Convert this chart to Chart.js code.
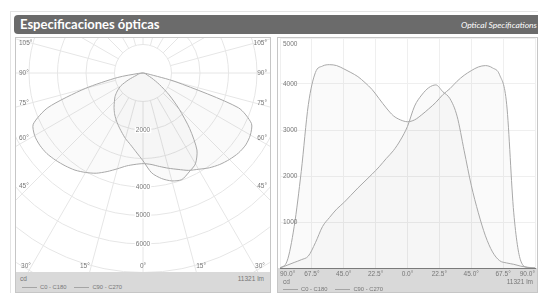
<!DOCTYPE html>
<html>
<head>
<meta charset="utf-8">
<script src="https://cdn.jsdelivr.net/npm/chart.js@4.4.1/dist/chart.umd.min.js"></script>
<style>
body{margin:0;width:538px;height:293px;overflow:hidden;position:relative;background:#fff;font-family:"Liberation Sans",Arial,sans-serif}
#frame{position:absolute;left:10px;top:11px;width:540px;height:300px;border:1px solid #e4e4e4}
#bar{position:absolute;left:14px;top:15px;width:524px;height:19px;background:#6b6b6b;border-radius:4px 0 0 4px}
#bar h1{margin:0;position:absolute;left:6px;top:1px;font:bold 13px Lato,sans-serif;color:#fff;white-space:nowrap}
#bar span{position:absolute;right:1px;top:5px;font:italic 8.5px Lato,sans-serif;color:#fff;white-space:nowrap}
.panel{position:absolute;top:37px;height:254px;border:1px solid #c6c6c6;background:#fff;overflow:hidden}
#pl{left:15px;width:254px}
#pr{left:277px;width:259px}
canvas{position:absolute;left:0;top:0}
.foot{position:absolute;left:0;width:100%;background:#d9d9d9}
.t{position:absolute;white-space:nowrap;color:#777;font-size:6.5px;line-height:8px}
.key{position:absolute;white-space:nowrap;color:#777;font-size:5.8px;line-height:8px}
.key i{display:inline-block;width:15px;border-top:1px solid #a5a5a5;vertical-align:middle;margin:0 3px 0 0}
.key b{font-weight:normal;margin-right:8px}
</style>
</head>
<body>
<div id="frame"></div>
<div id="bar"><h1>Especificaciones ópticas</h1><span>Optical Specifications</span></div>

<div class="panel" id="pl">
  <canvas id="polar" width="254" height="234"></canvas>
  <div class="foot" style="top:234px;height:20px"></div>
  <div class="t" style="left:4px;top:237px">cd</div>
  <div class="t" style="right:6px;top:237px">11321 lm</div>
  <div class="key" style="left:6px;top:245px"><i></i><b>C0 - C180</b><i></i><b>C90 - C270</b></div>
</div>

<div class="panel" id="pr">
  <canvas id="cart" width="259" height="254"></canvas>
  <div class="t" style="left:5px;top:240px">cd</div>
  <div class="t" style="right:4px;top:240px">11321 lm</div>
  <div class="key" style="left:5px;top:247px"><i></i><b>C0 - C180</b><i></i><b>C90 - C270</b></div>
</div>

<script>
// gamma angles, degrees (negative = C180 / C270 side)
var angles = [-90,-85,-80,-75,-70,-65,-60,-55,-50,-45,-40,-35,-30,-25,-20,-15,-10,-5,0,
              5,10,15,20,25,30,35,40,45,50,55,60,65,70,75,80,85,90];
// intensities, cd
var c0c180 = [0,60,120,180,260,550,900,1100,1280,1420,1580,1740,1890,2040,2200,2380,2550,2780,3080,
              3520,3760,3920,3980,3830,3680,3300,2550,1800,1200,700,350,160,110,80,40,15,0];
var c90c270 = [0,150,900,2100,3550,4250,4390,4420,4400,4330,4250,4160,4030,3880,3680,3480,3310,3220,3180,
               3220,3330,3460,3600,3770,3900,4060,4190,4290,4370,4400,4350,4200,3560,1200,150,10,0];
var seriesNames = ['C0 - C180', 'C90 - C270'];

var polarCircles = [1000,2000,3000,4000,5000,6000,7000,8000,9000,10000];
var polarRadiusLabels = [2000,4000,5000,6000];
var polarAngleLabels = [0,15,30,45,60,75,90,105];
var cartXTicks = [-90,-67.5,-45,-22.5,0,22.5,45,67.5,90];
var cartYTicks = [1000,2000,3000,4000,5000];

var lineCol = '#a8a8a8';
var fillCol = 'rgba(0,0,0,0.02)';
var polarGridCol = '#e6e6e6';
var cartGridCol = '#efefef';
var txtCol = '#777';
var small = '6.5px "Liberation Sans", Arial, sans-serif';

function toPolar(vals) {
  return angles.map(function(a, i) {
    var r = a * Math.PI / 180;
    return {x: vals[i] * Math.sin(r), y: -vals[i] * Math.cos(r)};
  });
}

var polarGrid = {
  id: 'polarGrid',
  beforeDatasetsDraw: function(chart) {
    var ctx = chart.ctx, a = chart.chartArea, x = chart.scales.x, y = chart.scales.y;
    var cx = x.getPixelForValue(0), cy = y.getPixelForValue(0);
    ctx.save();
    ctx.beginPath(); ctx.rect(a.left, a.top, a.width, a.height); ctx.clip();
    ctx.strokeStyle = polarGridCol; ctx.lineWidth = 1;
    polarCircles.forEach(function(v) {
      ctx.beginPath();
      ctx.arc(cx, cy, x.getPixelForValue(v) - cx, 0, Math.PI * 2);
      ctx.stroke();
    });
    var r0 = x.getPixelForValue(polarCircles[0]) - cx;
    var r1 = x.getPixelForValue(polarCircles[polarCircles.length - 1]) - cx;
    for (var d = 0; d < 360; d += 15) {
      var t = d * Math.PI / 180;
      ctx.beginPath();
      ctx.moveTo(cx + r0 * Math.sin(t), cy + r0 * Math.cos(t));
      ctx.lineTo(cx + r1 * Math.sin(t), cy + r1 * Math.cos(t));
      ctx.stroke();
    }
    ctx.restore();
  },
  afterDraw: function(chart) {
    var ctx = chart.ctx, a = chart.chartArea, x = chart.scales.x, y = chart.scales.y;
    var cx = x.getPixelForValue(0), cy = y.getPixelForValue(0);
    ctx.save();
    ctx.font = small; ctx.fillStyle = txtCol; ctx.textBaseline = 'middle';
    polarRadiusLabels.forEach(function(v) {
      var py = y.getPixelForValue(-v);
      var w = ctx.measureText(String(v)).width;
      ctx.fillStyle = '#fff';
      ctx.fillRect(cx - w / 2 - 1, py - 3, w + 2, 6);
      ctx.fillStyle = txtCol; ctx.textAlign = 'center';
      ctx.fillText(String(v), cx, py);
    });
    polarAngleLabels.forEach(function(d) {
      var t = d * Math.PI / 180;
      [-1, 1].forEach(function(side) {
        if (d === 0 && side < 0) return;
        var s = Math.sin(t), c = Math.cos(t);
        var dx = side < 0 ? cx - (a.left + 14) : (a.right - 14) - cx;
        var hy = s > 0.001 ? cy + dx * c / s : Infinity;
        var txt = d + '\u00b0';
        if (hy < a.bottom - 10) {
          ctx.textAlign = side < 0 ? 'left' : 'right';
          ctx.fillText(txt, side < 0 ? a.left + 3 : a.right - 3, hy);
        } else {
          var hx = cx + side * (a.bottom + 18 - cy) * s / c;
          hx = Math.max(a.left + 10, Math.min(a.right - 10, hx));
          ctx.textAlign = 'center';
          ctx.fillText(txt, hx, a.bottom - 6);
        }
      });
    });
    ctx.restore();
  }
};

var cartExtras = {
  id: 'cartExtras',
  beforeDraw: function(chart) {
    var ctx = chart.ctx, a = chart.chartArea;
    ctx.save();
    ctx.fillStyle = '#d9d9d9';
    ctx.fillRect(0, a.bottom, chart.width, chart.height - a.bottom);
    ctx.restore();
  },
  afterDraw: function(chart) {
    var ctx = chart.ctx, a = chart.chartArea, y = chart.scales.y;
    ctx.save();
    ctx.font = small; ctx.fillStyle = txtCol; ctx.textAlign = 'left'; ctx.textBaseline = 'middle';
    cartYTicks.forEach(function(v) {
      ctx.fillText(String(v), a.left + 3, Math.max(y.getPixelForValue(v), a.top + 6));
    });
    ctx.restore();
  }
};

function lineSet(label, data) {
  return {
    label: label, data: data, showLine: true, borderColor: lineCol, borderWidth: 1,
    backgroundColor: fillCol, pointRadius: 0
  };
}

window.onload = function() {
  var polarSets = [lineSet(seriesNames[0], toPolar(c0c180)), lineSet(seriesNames[1], toPolar(c90c270))];
  polarSets.forEach(function(s) { s.fill = 'shape'; s.tension = 0.25; });

  new Chart(document.getElementById('polar').getContext('2d'), {
    type: 'scatter',
    data: {datasets: polarSets},
    options: {
      responsive: false, animation: false, devicePixelRatio: 1,
      layout: {padding: 0},
      plugins: {legend: {display: false}, tooltip: {enabled: false}},
      scales: {
        x: {display: false, min: -4456, max: 4456},
        y: {display: false, min: -6982, max: 1228}
      }
    },
    plugins: [polarGrid]
  });

  var cartSets = [
    lineSet(seriesNames[0], angles.map(function(a, i) { return {x: a, y: c0c180[i]}; })),
    lineSet(seriesNames[1], angles.map(function(a, i) { return {x: a, y: c90c270[i]}; }))
  ];
  cartSets.forEach(function(s) { s.fill = 'origin'; s.cubicInterpolationMode = 'monotone'; });

  new Chart(document.getElementById('cart').getContext('2d'), {
    type: 'scatter',
    data: {datasets: cartSets},
    options: {
      responsive: false, animation: false, devicePixelRatio: 1,
      layout: {padding: 0},
      plugins: {legend: {display: false}, tooltip: {enabled: false}},
      scales: {
        x: {
          type: 'linear', min: cartXTicks[0], max: cartXTicks[cartXTicks.length - 1],
          afterBuildTicks: function(s) { s.ticks = cartXTicks.map(function(v) { return {value: v}; }); },
          ticks: {
            align: 'inner', maxRotation: 0, autoSkip: false, padding: 2, color: txtCol,
            font: {size: 6.5, family: '"Liberation Sans", Arial, sans-serif'},
            callback: function(v) { return Math.abs(v).toFixed(1) + '\u00b0'; }
          },
          grid: {color: cartGridCol, drawTicks: false},
          border: {color: '#7a7a7a'},
          afterFit: function(s) { s.height = 24; }
        },
        y: {
          min: 0, max: 5000,
          afterBuildTicks: function(s) { s.ticks = [0].concat(cartYTicks).map(function(v) { return {value: v}; }); },
          ticks: {display: false},
          grid: {color: cartGridCol, drawTicks: false},
          border: {display: false},
          afterFit: function(s) { s.width = 0; }
        }
      }
    },
    plugins: [cartExtras]
  });
};
</script>
</body>
</html>
